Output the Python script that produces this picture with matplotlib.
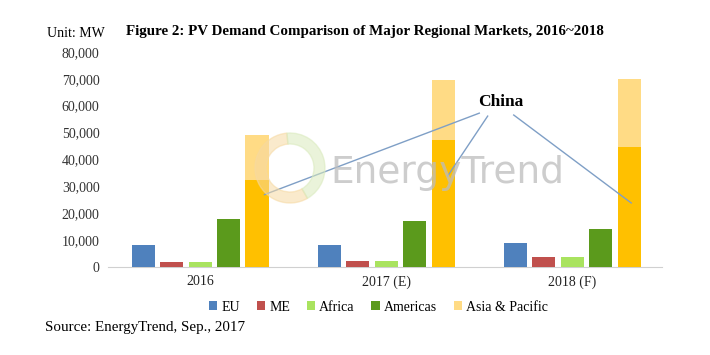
import matplotlib
matplotlib.use("Agg")
from matplotlib import pyplot as plt
from matplotlib.patches import Wedge
import numpy as np

years = ["2016", "2017 (E)", "2018 (F)"]
eu = [8200, 8200, 8800]
me = [1900, 2200, 3800]
africa = [1900, 2200, 3700]
americas = [17800, 17100, 14000]
asia_pacific = [49000, 69500, 70000]
china = [32300, 47200, 44600]

colors = {"EU": "#4F81BD", "ME": "#C0504D", "Africa": "#A9E35F",
          "Americas": "#5B9A1C", "Asia & Pacific": "#FFDB85", "China": "#FFC000"}

plt.rcParams["font.family"] = ["Liberation Serif", "DejaVu Serif"]

fig = plt.figure(figsize=(7.1, 3.55), dpi=100)
ax = fig.add_axes([0.152, 0.248, 0.78, 0.606])

x = np.arange(len(years))
w = 0.124
step = 0.153
ax.bar(x - 2*step, eu, w, color=colors["EU"], label="EU", zorder=3)
ax.bar(x - step, me, w, color=colors["ME"], label="ME", zorder=3)
ax.bar(x, africa, w, color=colors["Africa"], label="Africa", zorder=3)
ax.bar(x + step, americas, w, color=colors["Americas"], label="Americas", zorder=3)
ax.bar(x + 2*step, asia_pacific, w, color=colors["Asia & Pacific"], label="Asia & Pacific", zorder=3)
ax.bar(x + 2*step, china, w, color=colors["China"], zorder=3)

ax.set_xlim(-0.495, 2.48)
ax.set_ylim(0, 80000)
ax.set_yticks(np.arange(0, 80001, 10000))
ax.set_yticklabels([f"{v:,}" for v in range(0, 80001, 10000)], fontsize=10, color="#333333")
ax.set_xticks(x)
ax.set_xticklabels(years, fontsize=10, color="#222222")
ax.tick_params(length=0, pad=6)
for s in ["top", "right", "left"]:
    ax.spines[s].set_visible(False)
ax.spines["bottom"].set_color("#d0d0d0")

# faint watermark (logo ring + word)
fig.text(0.465, 1 - 183/355, "EnergyTrend", fontsize=27, family="DejaVu Sans",
         color="#bdbdbd", alpha=0.75, ha="left", va="baseline", zorder=2)
ring = Wedge((290, 355-168), 35, 95, 300, width=11, transform=None,
             color="#f6d9a2", alpha=0.55, zorder=2)
ring2 = Wedge((290, 355-168), 35, 300, 455, width=11, transform=None,
              color="#d9eabc", alpha=0.55, zorder=2)
fig.add_artist(ring); fig.add_artist(ring2)

# China callouts
ends = [(0 + 2*step + 0.04, 26900), (1.33, 33800), (2 + 2*step + 0.01, 23800)]
starts = [(1.50, 57200), (1.545, 56100), (1.685, 56500)]
for (sx, sy), (ex, ey) in zip(starts, ends):
    ax.plot([sx, ex], [sy, ey], color="#7f9fc6", lw=1.0, zorder=4)
ax.text(1.615, 61300, "China", fontsize=12.5, fontweight="bold", ha="center", va="center",
        zorder=5)

fig.text(0.514, 0.912, "Figure 2: PV Demand Comparison of Major Regional Markets, 2016~2018",
         fontsize=10.8, fontweight="bold", ha="center", va="center")
fig.text(0.066, 0.907, "Unit: MW", fontsize=10, ha="left", va="center")
fig.text(0.063, 0.078, "Source: EnergyTrend, Sep., 2017", fontsize=10.8, ha="left", va="center")

fig.legend(*ax.get_legend_handles_labels(), loc="center", bbox_to_anchor=(0.533, 0.135),
           ncol=5, frameon=False, fontsize=10, handlelength=0.6, handleheight=0.6,
           columnspacing=1.2, handletextpad=0.3)

fig.savefig("out.png", dpi=100)
